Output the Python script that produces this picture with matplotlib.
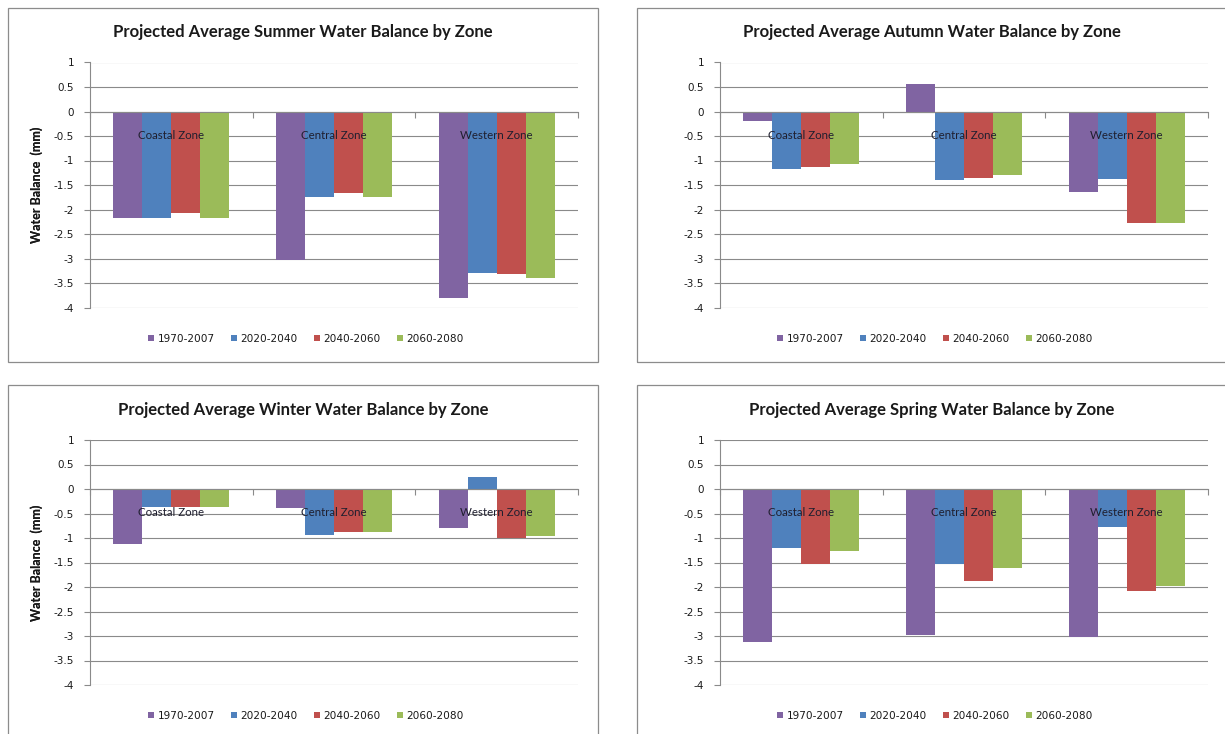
import matplotlib
matplotlib.use("Agg")
import matplotlib.pyplot as plt
from matplotlib.patches import Rectangle
from matplotlib import ticker
import numpy as np

plt.rcParams["font.family"] = ["Lato", "DejaVu Sans"]
plt.rcParams["axes.unicode_minus"] = False

zones = ["Coastal Zone", "Central Zone", "Western Zone"]
periods = ["1970-2007", "2020-2040", "2040-2060", "2060-2080"]
colors = ["#8064A2", "#4F81BD", "#C0504D", "#9BBB59"]

# Water balance (mm) per period, values ordered Coastal, Central, Western
summer_1970_2007 = [-2.18, -3.03, -3.81]
summer_2020_2040 = [-2.17, -1.75, -3.29]
summer_2040_2060 = [-2.07, -1.67, -3.31]
summer_2060_2080 = [-2.18, -1.75, -3.39]

autumn_1970_2007 = [-0.19, 0.56, -1.65]
autumn_2020_2040 = [-1.17, -1.39, -1.37]
autumn_2040_2060 = [-1.13, -1.35, -2.27]
autumn_2060_2080 = [-1.07, -1.29, -2.27]

winter_1970_2007 = [-1.12, -0.38, -0.80]
winter_2020_2040 = [-0.37, -0.93, 0.25]
winter_2040_2060 = [-0.37, -0.88, -0.99]
winter_2060_2080 = [-0.36, -0.88, -0.96]

spring_1970_2007 = [-3.13, -2.97, -3.03]
spring_2020_2040 = [-1.20, -1.54, -0.78]
spring_2040_2060 = [-1.54, -1.87, -2.09]
spring_2060_2080 = [-1.27, -1.61, -1.97]

panels = [
    ("Projected Average Summer Water Balance by Zone",
     [summer_1970_2007, summer_2020_2040, summer_2040_2060, summer_2060_2080]),
    ("Projected Average Autumn Water Balance by Zone",
     [autumn_1970_2007, autumn_2020_2040, autumn_2040_2060, autumn_2060_2080]),
    ("Projected Average Winter Water Balance by Zone",
     [winter_1970_2007, winter_2020_2040, winter_2040_2060, winter_2060_2080]),
    ("Projected Average Spring Water Balance by Zone",
     [spring_1970_2007, spring_2020_2040, spring_2040_2060, spring_2060_2080]),
]

W, H = 1225, 734
fig = plt.figure(figsize=(W / 100, H / 100), dpi=100)
fig.patch.set_facecolor("white")


def fx(px):
    return px / W


def fy(py):
    return 1 - py / H


# panel frames: (left, top, right, bottom) in pixels
frames = [(8, 8, 598, 362), (637, 8, 1240, 362),
          (8, 385, 598, 750), (637, 385, 1240, 750)]
# plot areas: (left, top, right, bottom) in pixels
areas = [(90, 62.5, 578, 307.5), (720, 62.5, 1208, 307.5),
         (90, 440, 578, 685), (720, 440, 1208, 685)]
title_y = [32, 32, 410, 410]
legend_y = [339, 339, 716, 716]

grid_col = "#8a8a8a"
text_col = "#1a1a1a"
bar_w = 0.178
x = np.arange(len(zones))

for i, (title, series) in enumerate(panels):
    l, t, r, b = frames[i]
    fig.add_artist(Rectangle((fx(l), fy(b)), fx(r - l), (b - t) / H,
                             transform=fig.transFigure, fill=False,
                             edgecolor="#8c8c8c", lw=0.9))
    al, at, ar, ab = areas[i]
    ax = fig.add_axes([fx(al), fy(ab), fx(ar - al), (ab - at) / H])
    ax.set_facecolor("none")
    ax.set_axisbelow(True)
    handles = []
    for k, vals in enumerate(series):
        h = ax.bar(x + (k - 1.5) * bar_w, vals, bar_w, color=colors[k],
                   edgecolor="none", zorder=2, label=periods[k])
        handles.append(h)
    ax.set_xlim(-0.5, 2.5)
    ax.set_ylim(-4, 1)
    ax.set_yticks(np.arange(-4, 1.01, 0.5))
    ax.yaxis.set_major_formatter(ticker.FuncFormatter(lambda v, p: "%g" % v))
    ax.yaxis.grid(True, color=grid_col, lw=0.8)
    ax.set_xticks([-0.5, 0.5, 1.5, 2.5])
    ax.set_xticklabels([])
    ax.spines["bottom"].set_position(("data", 0))
    ax.spines["bottom"].set_color(grid_col)
    ax.spines["bottom"].set_zorder(3)
    ax.spines["left"].set_color(grid_col)
    ax.spines["top"].set_visible(False)
    ax.spines["right"].set_visible(False)
    ax.tick_params(axis="x", direction="out", length=4, color=grid_col, width=0.8)
    ax.tick_params(axis="y", direction="out", length=4, color=grid_col, width=0.8,
                   labelsize=7.5, labelcolor=text_col, pad=7.5)
    for lab in ax.get_yticklabels():
        lab.set_family("DejaVu Sans")
    for j, z in enumerate(zones):
        ax.text(x[j], -0.48, z, ha="center", va="center", fontsize=8.3,
                color="#1f1f2f", zorder=5)
    ax.set_ylabel("Water Balance  (mm)", fontsize=9, fontweight="bold",
                  color=text_col)
    ax.yaxis.set_label_coords((43 - al) / (ar - al), 0.5)
    cx = (l + min(r, l + 590)) / 2
    fig.text(fx(cx), fy(title_y[i]), title, ha="center", va="center",
             fontsize=12, fontweight="bold", color=text_col)
    fig.legend(handles=handles, labels=periods, loc="center",
               bbox_to_anchor=(fx(cx + 3), fy(legend_y[i])), ncol=4,
               frameon=False, handlelength=0.55, handleheight=0.55,
               handletextpad=0.35, columnspacing=1.55, labelcolor=text_col,
               prop={"family": "DejaVu Sans", "size": 7.6})

fig.savefig("out.png", dpi=100, facecolor="white")
